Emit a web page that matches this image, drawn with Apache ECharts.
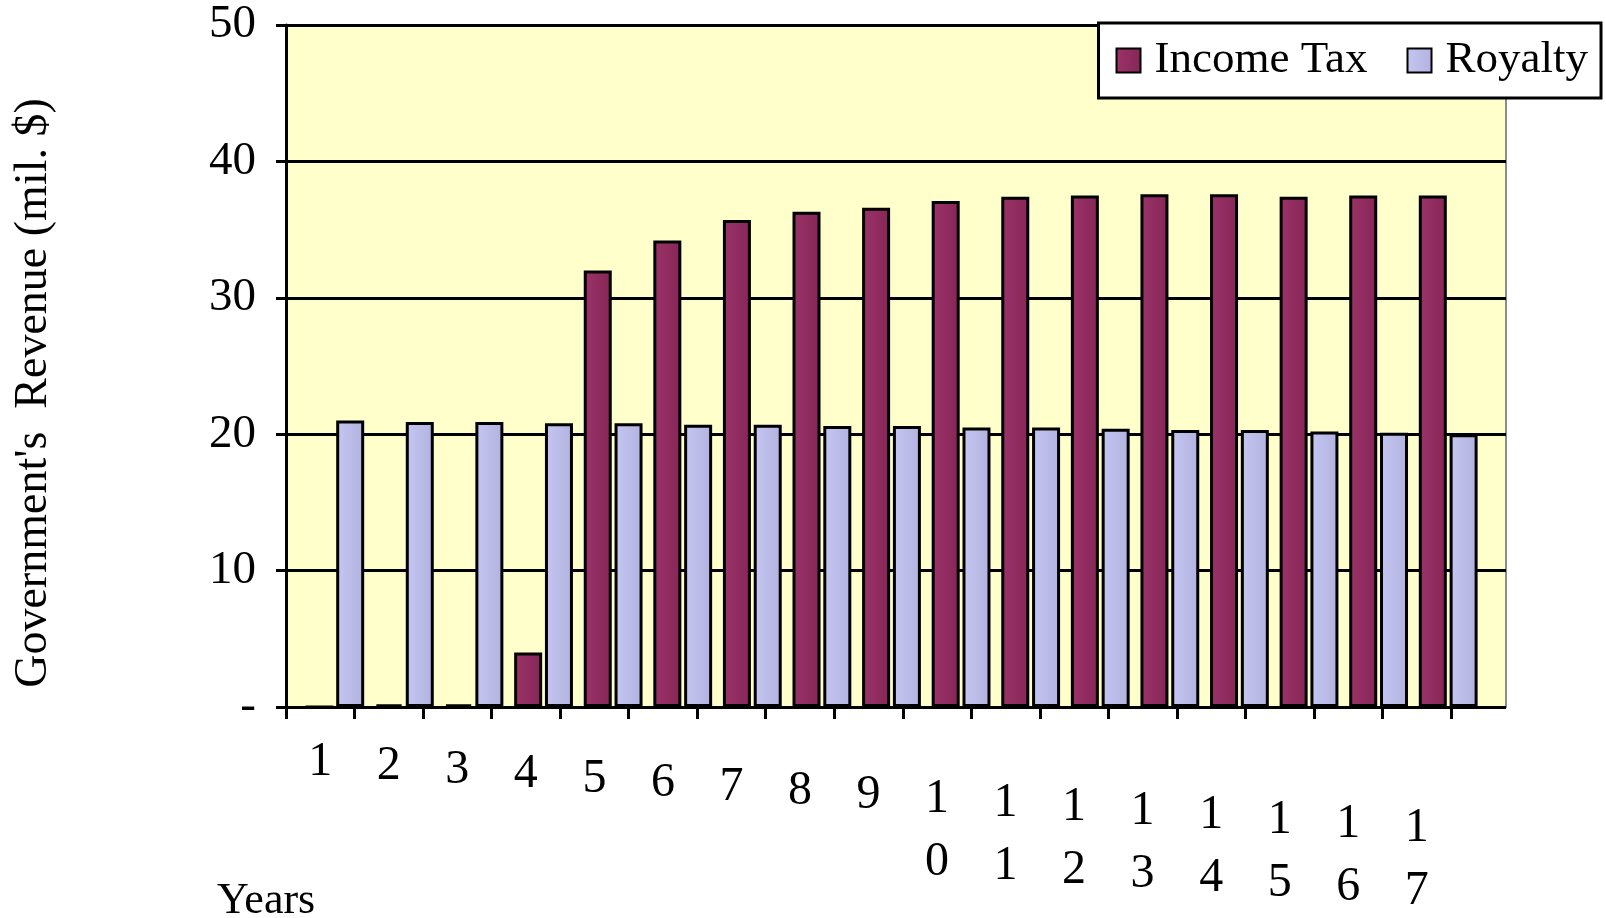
<!DOCTYPE html>
<html>
    <head>
        <meta charset="utf-8">
        <title>Government's Revenue</title>
        <style>
            html, body { margin: 0; padding: 0; background: #fff; }
            #chart1 { width: 1606px; height: 918px; }
        </style>
    </head>
    <body>
        <div id="chart1"></div>
    </body>
    <script src="https://cdn.jsdelivr.net/npm/echarts@6/dist/echarts.min.js"></script>
    <script type="text/javascript">
        // 数据
        const years = ['1', '2', '3', '4', '5', '6', '7', '8', '9', '10', '11', '12', '13', '14', '15', '16', '17'];
        const incomeTax = [0, 0.2, 0.2, 4.0, 32.0, 34.2, 35.7, 36.3, 36.6, 37.1, 37.4, 37.5, 37.6, 37.6, 37.4, 37.5, 37.5];
        const royalty = [21.0, 20.9, 20.9, 20.8, 20.8, 20.7, 20.7, 20.6, 20.6, 20.5, 20.5, 20.4, 20.3, 20.3, 20.2, 20.1, 20.0];

        const font = '"Liberation Serif", "Times New Roman", serif';
        let myChart1 = echarts.init(document.getElementById('chart1'));

        // 标签逐个下移，模仿原图的透视
        const rich = {};
        years.forEach((y, i) => {
            rich['s' + i] = { fontSize: 4, lineHeight: 2 + 4.1 * i };
            rich['d' + i] = { fontFamily: font, fontSize: 48, lineHeight: 63, color: '#000' };
        });

        const hGrad = (c1, c2) => new echarts.graphic.LinearGradient(0, 0, 1, 0, [
            { offset: 0, color: c1 }, { offset: 1, color: c2 }
        ]);

        myChart1.setOption({
            backgroundColor: '#ffffff',
            animation: false,
            textStyle: { fontFamily: font },
            legend: {
                data: ['Income Tax', 'Royalty'],
                top: 23,
                right: 5,
                icon: 'rect',
                backgroundColor: '#ffffff',
                borderColor: '#000000',
                borderWidth: 3,
                padding: [15, 13, 15, 17],
                itemWidth: 24,
                itemHeight: 24,
                itemGap: 39,
                textStyle: { fontFamily: font, fontSize: 45, color: '#000', padding: [0, 0, 0, 9] }
            },
            grid: [
                // 后墙（黄色背景 + 网格线）
                { left: 286, right: 100, top: 25, bottom: 211, show: true, backgroundColor: '#FFFFCC', borderColor: '#8c8c8c', borderWidth: 2 },
                // 坐标轴
                { left: 286, right: 155, top: 25, bottom: 211 },
                // 柱子
                { left: 300, right: 123, top: 25, bottom: 211 }
            ],
            xAxis: [
                { gridIndex: 0, type: 'category', data: years, show: false },
                {
                    gridIndex: 1,
                    type: 'category',
                    data: years,
                    axisLine: { lineStyle: { color: '#000', width: 3 } },
                    axisTick: { show: true, length: 12, lineStyle: { color: '#000', width: 3 } },
                    axisLabel: {
                        margin: 22,
                        rich: rich,
                        formatter: (v, i) => '{s' + i + '| }\n' + v.split('').map((c) => '{d' + i + '|' + c + '}').join('\n')
                    }
                },
                { gridIndex: 2, type: 'category', data: years, show: false }
            ],
            yAxis: [
                {
                    gridIndex: 0, type: 'value', min: 0, max: 50, interval: 10,
                    axisLine: { show: false }, axisTick: { show: false }, axisLabel: { show: false },
                    splitLine: { lineStyle: { color: '#000', width: 3 } }
                },
                {
                    gridIndex: 1, type: 'value', min: 0, max: 50, interval: 10,
                    axisLine: { show: true, lineStyle: { color: '#000', width: 3 } },
                    axisTick: { show: true, length: 10, lineStyle: { color: '#000', width: 3 } },
                    splitLine: { show: false },
                    axisLabel: {
                        fontFamily: font,
                        fontSize: 47,
                        color: '#000',
                        margin: 30,
                        formatter: (v) => (v === 0 ? '-' : String(v))
                    }
                },
                { gridIndex: 2, type: 'value', min: 0, max: 50, interval: 10, show: false }
            ],
            graphic: [
                {
                    type: 'text',
                    x: 34,
                    y: 393,
                    rotation: Math.PI / 2,
                    style: {
                        text: "Government's  Revenue (mil. $)",
                        font: '46px ' + font,
                        fill: '#000',
                        textAlign: 'center',
                        textVerticalAlign: 'middle'
                    }
                },
                {
                    type: 'text',
                    left: 217,
                    top: 879,
                    style: { text: 'Years', font: '44px ' + font, fill: '#000' }
                }
            ],
            series: [
                {
                    name: 'Income Tax',
                    type: 'bar',
                    xAxisIndex: 2,
                    yAxisIndex: 2,
                    data: incomeTax,
                    barWidth: 28,
                    barGap: '10%',
                    itemStyle: { color: hGrad('#9C3369', '#852656'), borderColor: '#000', borderWidth: 3 }
                },
                {
                    name: 'Royalty',
                    type: 'bar',
                    xAxisIndex: 2,
                    yAxisIndex: 2,
                    data: royalty,
                    barWidth: 28,
                    itemStyle: { color: hGrad('#C6C6F2', '#B2B2E0'), borderColor: '#000', borderWidth: 3 }
                }
            ]
        });
    </script>
</html>
